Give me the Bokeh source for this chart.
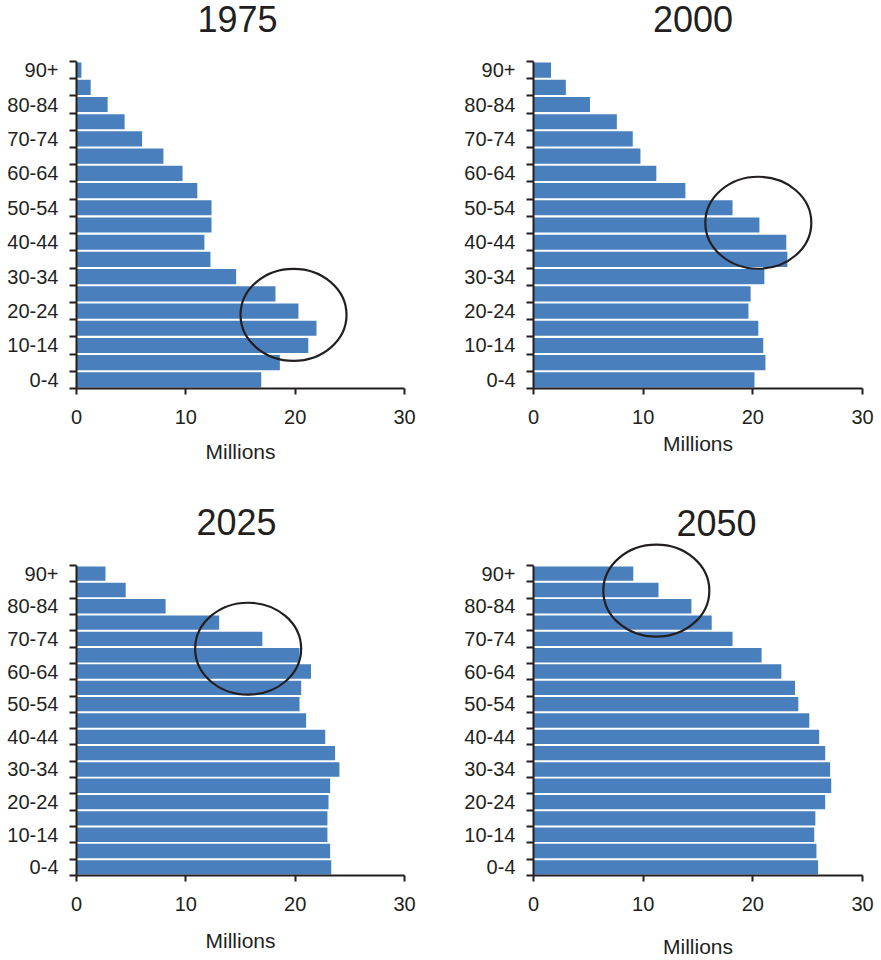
from bokeh.plotting import figure
from bokeh.models import Range1d, FixedTicker, LinearAxis
from bokeh.layouts import column, row
from bokeh.embed import file_html
from bokeh.resources import INLINE

# ---- data (millions), listed from youngest (0-4) to oldest (90+) ----
age_groups = ["0-4", "5-9", "10-14", "15-19", "20-24", "25-29", "30-34", "35-39",
              "40-44", "45-49", "50-54", "55-59", "60-64", "65-69", "70-74",
              "75-79", "80-84", "85-89", "90+"]

pop_1975 = [16.9, 18.6, 21.2, 21.95, 20.3, 18.2, 14.6, 12.25, 11.7, 12.35,
            12.35, 11.05, 9.7, 7.95, 6.0, 4.4, 2.85, 1.3, 0.45]
pop_2000 = [20.15, 21.15, 20.95, 20.5, 19.6, 19.8, 21.05, 23.15, 23.05, 20.6,
            18.15, 13.85, 11.2, 9.75, 9.05, 7.6, 5.15, 2.95, 1.6]
pop_2025 = [23.3, 23.2, 22.95, 22.95, 23.05, 23.2, 24.05, 23.65, 22.75, 21.0,
            20.4, 20.55, 21.45, 20.4, 17.0, 13.05, 8.15, 4.5, 2.65]
pop_2050 = [25.95, 25.8, 25.6, 25.7, 26.6, 27.15, 27.05, 26.6, 26.05, 25.15,
            24.15, 23.85, 22.6, 20.8, 18.15, 16.25, 14.4, 11.4, 9.1]

years = ["1975", "2000", "2025", "2050"]
x_ticks = [0, 10, 20, 30]

# highlighted regions (ring centre: value in millions, age-index position)
ring_x = [19.85, 20.5, 15.7, 11.2]
ring_y = [4.28, 9.63, 13.9, 17.46]

# horizontal anchor of each panel's year heading (in axis units)
title_x = [14.73, 14.54, 14.64, 16.68]

FONT = "Liberation Sans"
INK = "#231f20"
BAR = "#4a7fbe"


def make_panel(year, pops, rx, ry, tx, width, height, bl, br, bt, bb, y_end,
               title_standoff, xlab_standoff):
    n = len(age_groups)
    p = figure(width=width, height=height, output_backend="svg", toolbar_location=None,
               x_range=Range1d(0, 30), y_range=Range1d(0, y_end),
               min_border_left=bl, min_border_right=br, min_border_top=bt,
               min_border_bottom=bb)
    p.outline_line_color = None
    p.xgrid.visible = False
    p.ygrid.visible = False
    p.background_fill_color = "white"
    p.border_fill_color = "white"

    ys = [i + 0.5 for i in range(n)]
    p.hbar(y=ys, left=0, right=pops, height=0.88, fill_color=BAR, line_color=None)
    p.ellipse(x=[rx], y=[ry], width=106, height=92, width_units="screen",
              height_units="screen", fill_color=None, line_color=INK, line_width=2.2)

    # year heading, drawn as the single label of an axis above the frame
    top = LinearAxis(ticker=FixedTicker(ticks=[tx], minor_ticks=[]),
                     major_label_overrides={tx: year})
    top.axis_line_color = None
    top.major_tick_line_color = None
    top.minor_tick_line_color = None
    top.major_tick_in = 0
    top.major_tick_out = 0
    top.major_label_standoff = title_standoff
    top.major_label_text_font = FONT
    top.major_label_text_font_size = "36px"
    top.major_label_text_color = INK
    p.add_layout(top, "above")

    xa = p.below[0]
    xa.ticker = FixedTicker(ticks=x_ticks, minor_ticks=[])
    xa.axis_line_width = 2
    xa.axis_line_color = INK
    xa.major_tick_in = 0
    xa.major_tick_out = 6
    xa.major_tick_line_width = 2
    xa.major_tick_line_color = INK
    xa.minor_tick_line_color = None
    xa.major_label_text_font = FONT
    xa.major_label_text_font_size = "20px"
    xa.major_label_text_color = INK
    xa.major_label_standoff = 15
    xa.axis_label = "Millions"
    xa.axis_label_text_font = FONT
    xa.axis_label_text_font_size = "21px"
    xa.axis_label_text_font_style = "normal"
    xa.axis_label_text_color = INK
    xa.axis_label_standoff = xlab_standoff

    ya = p.left[0]
    lab_pos = [i + 0.5 for i in range(0, n, 2)]
    ya.ticker = FixedTicker(ticks=lab_pos, minor_ticks=list(range(n + 1)))
    ya.major_label_overrides = {i + 0.5: age_groups[i] for i in range(0, n, 2)}
    ya.bounds = (0, n)
    ya.axis_line_width = 2
    ya.axis_line_color = INK
    ya.major_tick_line_color = None
    ya.major_tick_in = 0
    ya.major_tick_out = 7
    ya.minor_tick_in = 0
    ya.minor_tick_out = 7
    ya.minor_tick_line_width = 2
    ya.minor_tick_line_color = INK
    ya.major_label_text_font = FONT
    ya.major_label_text_font_size = "20px"
    ya.major_label_text_color = INK
    ya.major_label_standoff = 11
    return p


n_groups = len(age_groups)
top_row_end = n_groups
bottom_row_end = n_groups * 334 / 310

pA = make_panel(years[0], pop_1975, ring_x[0], ring_y[0], title_x[0], 448, 478,
                76, 44, 61, 90, top_row_end, 30, 13)
pB = make_panel(years[1], pop_2000, ring_x[1], ring_y[1], title_x[1], 431, 478,
                85, 17, 61, 90, top_row_end, 30, 5)
pC = make_panel(years[2], pop_2025, ring_x[2], ring_y[2], title_x[2], 448, 482,
                76, 44, 63, 85, bottom_row_end, 7, 15)
pD = make_panel(years[3], pop_2050, ring_x[3], ring_y[3], title_x[3], 431, 482,
                85, 17, 63, 85, bottom_row_end, 6, 21)

layout = column(row(pA, pB), row(pC, pD))

with open("out.html", "w") as f:
    f.write(file_html(layout, INLINE))
